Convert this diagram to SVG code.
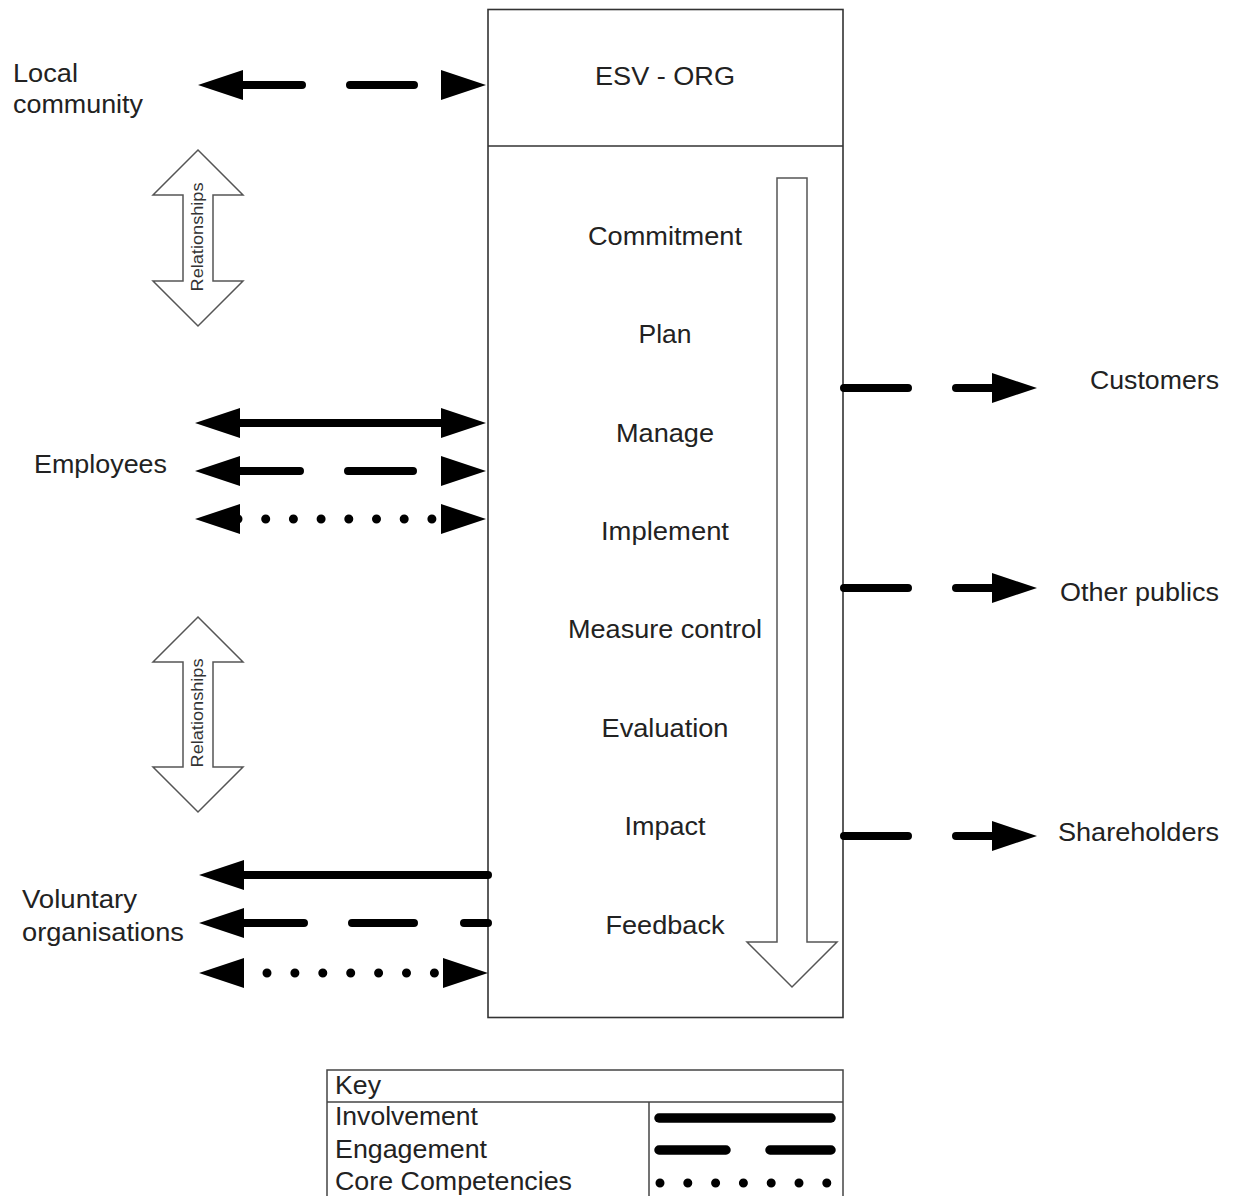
<svg xmlns="http://www.w3.org/2000/svg" xmlns:xlink="http://www.w3.org/1999/xlink" width="1237" height="1196" viewBox="0 0 1237 1196">
<style>
.t{font-family:"Liberation Sans",Arial,sans-serif;font-size:25px;fill:#222}
.rt{font-family:"Liberation Sans",Arial,sans-serif;font-size:16px;fill:#333}
.box{fill:#fff;stroke:#333;stroke-width:1.6}
.hol{fill:#fff;stroke:#555;stroke-width:1.5;stroke-linejoin:miter}
.ln{fill:none;stroke:#000;stroke-width:8;stroke-linecap:round}
.dot{fill:none;stroke:#000;stroke-width:9;stroke-linecap:round}
.kl{fill:none;stroke:#000;stroke-width:9.5;stroke-linecap:round}
.hd{fill:#000}
</style>
<defs>
<polygon id="hl" points="0,0 45,-15 45,15"/>
<polygon id="hr" points="0,0 -45,-15 -45,15"/>
</defs>
<rect width="1237" height="1196" fill="#fff"/>

<g id="esv-org">
<rect class="box" x="488" y="9.5" width="355" height="1008"/>
<line x1="488" y1="146" x2="843" y2="146" stroke="#333" stroke-width="1.6"/>
<text class="t" x="665" y="85" text-anchor="middle" textLength="140" lengthAdjust="spacingAndGlyphs">ESV - ORG</text>
</g>

<g id="process-arrow">
<polygon class="hol" points="777,178 807,178 807,942 837,942 792,987 747,942 777,942"/>
</g>

<g id="steps">
<text class="t" x="665" y="245" text-anchor="middle" textLength="154" lengthAdjust="spacingAndGlyphs">Commitment</text>
<text class="t" x="665" y="343" text-anchor="middle" textLength="53" lengthAdjust="spacingAndGlyphs">Plan</text>
<text class="t" x="665" y="442" text-anchor="middle" textLength="98" lengthAdjust="spacingAndGlyphs">Manage</text>
<text class="t" x="665" y="540" text-anchor="middle" textLength="128" lengthAdjust="spacingAndGlyphs">Implement</text>
<text class="t" x="665" y="638" text-anchor="middle" textLength="194" lengthAdjust="spacingAndGlyphs">Measure control</text>
<text class="t" x="665" y="737" text-anchor="middle" textLength="127" lengthAdjust="spacingAndGlyphs">Evaluation</text>
<text class="t" x="665" y="835" text-anchor="middle" textLength="81" lengthAdjust="spacingAndGlyphs">Impact</text>
<text class="t" x="665" y="934" text-anchor="middle" textLength="119" lengthAdjust="spacingAndGlyphs">Feedback</text>
</g>

<g id="local-community">
<text class="t" x="13" y="82" textLength="65" lengthAdjust="spacingAndGlyphs">Local</text>
<text class="t" x="13" y="113" textLength="130" lengthAdjust="spacingAndGlyphs">community</text>
</g>

<g id="employees">
<text class="t" x="34" y="473" textLength="133" lengthAdjust="spacingAndGlyphs">Employees</text>
</g>

<g id="voluntary-organisations">
<text class="t" x="22" y="908" textLength="115" lengthAdjust="spacingAndGlyphs">Voluntary</text>
<text class="t" x="22" y="941" textLength="162" lengthAdjust="spacingAndGlyphs">organisations</text>
</g>

<g id="customers">
<text class="t" x="1219" y="389" text-anchor="end" textLength="129" lengthAdjust="spacingAndGlyphs">Customers</text>
</g>
<g id="other-publics">
<text class="t" x="1219" y="601" text-anchor="end" textLength="159" lengthAdjust="spacingAndGlyphs">Other publics</text>
</g>
<g id="shareholders">
<text class="t" x="1219" y="841" text-anchor="end" textLength="161" lengthAdjust="spacingAndGlyphs">Shareholders</text>
</g>

<g id="relationships-1">
<polygon class="hol" points="198,150 243,195 213,195 213,281 243,281 198,326 153,281 183,281 183,195 153,195"/>
<text class="rt" transform="translate(203,237) rotate(-90)" text-anchor="middle" textLength="109" lengthAdjust="spacingAndGlyphs">Relationships</text>
</g>
<g id="relationships-2">
<polygon class="hol" points="198,617 243,662 213,662 213,767 243,767 198,812 153,767 183,767 183,662 153,662"/>
<text class="rt" transform="translate(203,713) rotate(-90)" text-anchor="middle" textLength="109" lengthAdjust="spacingAndGlyphs">Relationships</text>
</g>

<g id="connectors">
<!-- Local community: engagement -->
<path class="ln" d="M242,85 H302 M350,85 H414"/>
<use xlink:href="#hl" class="hd" x="198" y="85"/>
<use xlink:href="#hr" class="hd" x="486" y="85"/>
<!-- Employees -->
<path class="ln" d="M238,423 H442"/>
<use xlink:href="#hl" class="hd" x="195" y="423"/>
<use xlink:href="#hr" class="hd" x="486" y="423"/>
<path class="ln" d="M240,471 H300 M348,471 H413"/>
<use xlink:href="#hl" class="hd" x="195" y="471"/>
<use xlink:href="#hr" class="hd" x="486" y="471"/>
<path class="dot" d="M238,519 H433" stroke-dasharray="0 27.7"/>
<use xlink:href="#hl" class="hd" x="195" y="519"/>
<use xlink:href="#hr" class="hd" x="486" y="519"/>
<!-- Voluntary organisations -->
<path class="ln" d="M242,875 H488"/>
<use xlink:href="#hl" class="hd" x="199" y="875"/>
<path class="ln" d="M243,923 H304 M352,923 H414 M464,923 H488"/>
<use xlink:href="#hl" class="hd" x="199" y="923"/>
<path class="dot" d="M267,973 H435" stroke-dasharray="0 27.9"/>
<use xlink:href="#hl" class="hd" x="199" y="973"/>
<use xlink:href="#hr" class="hd" x="488" y="973"/>
<!-- Right side -->
<path class="ln" d="M844,388 H908 M956,388 H995"/>
<use xlink:href="#hr" class="hd" x="1037" y="388"/>
<path class="ln" d="M844,588 H908 M956,588 H995"/>
<use xlink:href="#hr" class="hd" x="1037" y="588"/>
<path class="ln" d="M844,836 H908 M956,836 H995"/>
<use xlink:href="#hr" class="hd" x="1037" y="836"/>
</g>

<g id="key">
<rect x="327" y="1070" width="516" height="140" fill="#fff" stroke="#444" stroke-width="1.5"/>
<line x1="327" y1="1102" x2="843" y2="1102" stroke="#444" stroke-width="1.5"/>
<line x1="649" y1="1102" x2="649" y2="1210" stroke="#444" stroke-width="1.5"/>
<text class="t" x="335" y="1094" textLength="46" lengthAdjust="spacingAndGlyphs">Key</text>
<text class="t" x="335" y="1125" textLength="143" lengthAdjust="spacingAndGlyphs">Involvement</text>
<text class="t" x="335" y="1158" textLength="152" lengthAdjust="spacingAndGlyphs">Engagement</text>
<text class="t" x="335" y="1190" textLength="237" lengthAdjust="spacingAndGlyphs">Core Competencies</text>
<path class="kl" d="M659,1118 H831"/>
<path class="kl" d="M659,1150 H726 M770,1150 H831"/>
<path class="dot" d="M660,1183 H828" stroke-width="10" stroke-dasharray="0 27.8"/>
</g>
</svg>
